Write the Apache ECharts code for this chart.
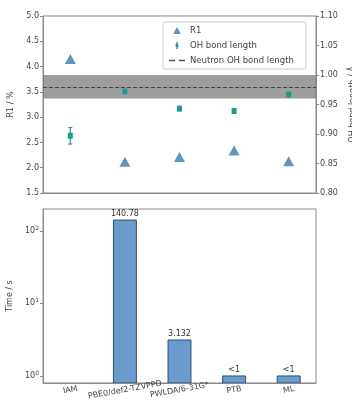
<!DOCTYPE html>
<html>
<head>
<meta charset="utf-8">
<script src="https://cdn.jsdelivr.net/npm/echarts@6/dist/echarts.min.js"></script>
<style>
  html, body { margin: 0; padding: 0; background: #fff; }
  #chart { width: 352px; height: 406px; }
</style>
</head>
<body>
<div id="chart"></div>
<script>
// methods on the shared x axis
const categories = ['IAM', 'PBE0/def2-TZVPPD', 'PWLDA/6-31G*', 'PTB', 'ML'];

// top panel: R1 (left axis) and OH bond length (right axis)
const r1Values = [4.15, 2.12, 2.21, 2.34, 2.13];
const ohValues = [0.897, 0.972, 0.943, 0.939, 0.967];
const ohErrors = [0.014, 0.003, 0.003, 0.004, 0.003];
const neutronOH = 0.98;
const neutronErr = 0.02;

// bottom panel: time (log axis)
const timeValues = [null, 140.78, 3.132, 1, 1];
const timeLabels = ['', '140.78', '3.132', '<1', '<1'];
const timeAxisMin = 0.8;
const timeAxisMax = 200;

const FONT = 'DejaVu Sans';
const TXT = '#444';
const FRAME = '#8a8a8a';
const TRI = '#3b78b2';
const TEAL = '#1f9b8c';

const chart = echarts.init(document.getElementById('chart'), null, {renderer: 'canvas'});

const errData = ohValues.map((v, i) => [i, v, ohErrors[i]]);
const barData = timeValues.map((v, i) => [i, v]);

function renderErr(params, api) {
    const i = api.value(0);
    const v = api.value(1);
    const e = api.value(2);
    const hi = api.coord([i, v + e]);
    const lo = api.coord([i, v - e]);
    const c = api.coord([i, v]);
    const style = {stroke: TEAL, lineWidth: 1.2};
    return {
        type: 'group',
        children: [
            {type: 'line', shape: {x1: c[0], y1: hi[1], x2: c[0], y2: lo[1]}, style},
            {type: 'line', shape: {x1: c[0] - 2, y1: hi[1], x2: c[0] + 2, y2: hi[1]}, style},
            {type: 'line', shape: {x1: c[0] - 2, y1: lo[1], x2: c[0] + 2, y2: lo[1]}, style},
            {type: 'rect', shape: {x: c[0] - 2.5, y: c[1] - 3, width: 5, height: 6}, style: {fill: TEAL}}
        ]
    };
}

// bars drawn from the bottom of the log axis (like matplotlib clipping at 0)
function renderBar(params, api) {
    const v = api.value(1);
    if (v == null || isNaN(v)) return null;
    const i = api.value(0);
    const top = api.coord([i, v]);
    const base = api.coord([i, timeAxisMin]);
    const w = api.size([1, 0])[0] * 0.42;
    return {
        type: 'rect',
        shape: {x: top[0] - w / 2, y: top[1], width: w, height: base[1] - top[1]},
        style: {fill: '#6a9bcc', stroke: '#2f4f6f', lineWidth: 1},
        textContent: {
            style: {text: timeLabels[i], fill: '#333', fontFamily: FONT, fontSize: 8}
        },
        textConfig: {position: 'top', distance: 2}
    };
}

const axisText = {color: TXT, fontFamily: FONT, fontSize: 8};

const option = {
    animation: false,
    textStyle: {fontFamily: FONT},
    grid: [
        {left: 43, right: 36, top: 16, height: 177, show: true, borderColor: FRAME, borderWidth: 1,
         backgroundColor: 'transparent', containLabel: false, outerBoundsMode: 'none'},
        {left: 43, right: 36, top: 209, height: 174, show: true, borderColor: FRAME, borderWidth: 1,
         backgroundColor: 'transparent', containLabel: false, outerBoundsMode: 'none'}
    ],
    legend: {
        left: 163, top: 22,
        orient: 'vertical',
        itemWidth: 16, itemHeight: 7, itemGap: 6,
        padding: [4, 12, 4, 6],
        backgroundColor: 'rgba(255,255,255,0.85)',
        borderColor: '#cccccc', borderWidth: 1, borderRadius: 2,
        textStyle: {color: TXT, fontFamily: FONT, fontSize: 8.5},
        data: [
            {name: 'R1', icon: 'path://M5,0L10,9H0Z', itemStyle: {color: TRI}},
            {name: 'OH bond length', icon: 'path://M4,0H6V3H7V7H6V10H4V7H3V3H4Z', itemStyle: {color: TEAL}},
            {name: 'Neutron OH bond length', icon: 'path://M0,0H5V1.2H0Z M8,0H13V1.2H8Z', itemStyle: {color: '#555'}}
        ]
    },
    xAxis: [
        {
            type: 'category', gridIndex: 0, data: categories,
            axisLine: {lineStyle: {color: FRAME}},
            axisTick: {alignWithLabel: true, length: 3, lineStyle: {color: FRAME}},
            axisLabel: {show: false}
        },
        {
            type: 'category', gridIndex: 1, data: categories,
            axisLine: {lineStyle: {color: FRAME}},
            axisTick: {alignWithLabel: true, length: 3, lineStyle: {color: FRAME}},
            axisLabel: Object.assign({rotate: 10, align: 'center', margin: 7, interval: 0}, axisText)
        }
    ],
    yAxis: [
        {
            type: 'value', gridIndex: 0, min: 1.5, max: 5.0, interval: 0.5,
            name: 'R1 / %', nameLocation: 'middle', nameGap: 24,
            nameTextStyle: axisText,
            axisLine: {show: true, lineStyle: {color: FRAME}},
            axisTick: {show: true, length: 3, lineStyle: {color: FRAME}},
            axisLabel: Object.assign({margin: 4, formatter: v => v.toFixed(1)}, axisText),
            splitLine: {show: false}
        },
        {
            type: 'value', gridIndex: 0, position: 'right', min: 0.80, max: 1.10, interval: 0.05,
            name: 'OH bond length / Å', nameLocation: 'middle', nameGap: 33, nameRotate: 90,
            nameTextStyle: axisText,
            axisLine: {show: true, lineStyle: {color: FRAME}},
            axisTick: {show: true, length: 3, lineStyle: {color: FRAME}},
            axisLabel: Object.assign({margin: 4, formatter: v => v.toFixed(2)}, axisText),
            splitLine: {show: false}
        },
        {
            type: 'log', gridIndex: 1, logBase: 10, min: timeAxisMin, max: timeAxisMax,
            name: 'Time / s', nameLocation: 'middle', nameGap: 24,
            nameTextStyle: axisText,
            axisLine: {show: true, lineStyle: {color: FRAME}},
            axisTick: {show: true, length: 3, lineStyle: {color: FRAME}},
            axisLabel: Object.assign({
                margin: 4,
                showMinLabel: false, showMaxLabel: false,
                formatter: v => {
                    const p = Math.log10(v);
                    if (Math.abs(p - Math.round(p)) > 1e-6) return '';
                    return '10{s|' + Math.round(p) + '}';
                },
                rich: {s: {fontSize: 6, color: TXT, fontFamily: FONT, padding: [0, 0, 5, 0]}}
            }, axisText),
            splitLine: {show: false},
            minorTick: {show: false}
        }
    ],
    series: [
        {
            name: 'Neutron OH bond length',
            type: 'line', xAxisIndex: 0, yAxisIndex: 1,
            data: [],
            symbol: 'none',
            color: '#555',
            lineStyle: {color: '#555', type: [4, 2], width: 1.2},
            markArea: {
                silent: true,
                itemStyle: {color: 'rgba(120,120,120,0.72)'},
                data: [[{yAxis: neutronOH - neutronErr}, {yAxis: neutronOH + neutronErr}]]
            },
            markLine: {
                silent: true, symbol: 'none', label: {show: false},
                lineStyle: {color: '#444', type: [4, 2], width: 1.2},
                data: [{yAxis: neutronOH}]
            }
        },
        {
            name: 'R1',
            type: 'scatter', xAxisIndex: 0, yAxisIndex: 0,
            data: r1Values,
            symbol: 'triangle', symbolSize: [11, 10],
            itemStyle: {color: TRI},
            z: 4
        },
        {
            name: 'OH bond length',
            type: 'custom', xAxisIndex: 0, yAxisIndex: 1,
            data: errData,
            renderItem: renderErr,
            itemStyle: {color: TEAL},
            encode: {x: 0, y: 1},
            z: 5
        },
        {
            name: 'Time',
            type: 'custom', xAxisIndex: 1, yAxisIndex: 2,
            data: barData,
            renderItem: renderBar,
            encode: {x: 0, y: 1},
            clip: true
        }
    ]
};

chart.setOption(option);
</script>
</body>
</html>
